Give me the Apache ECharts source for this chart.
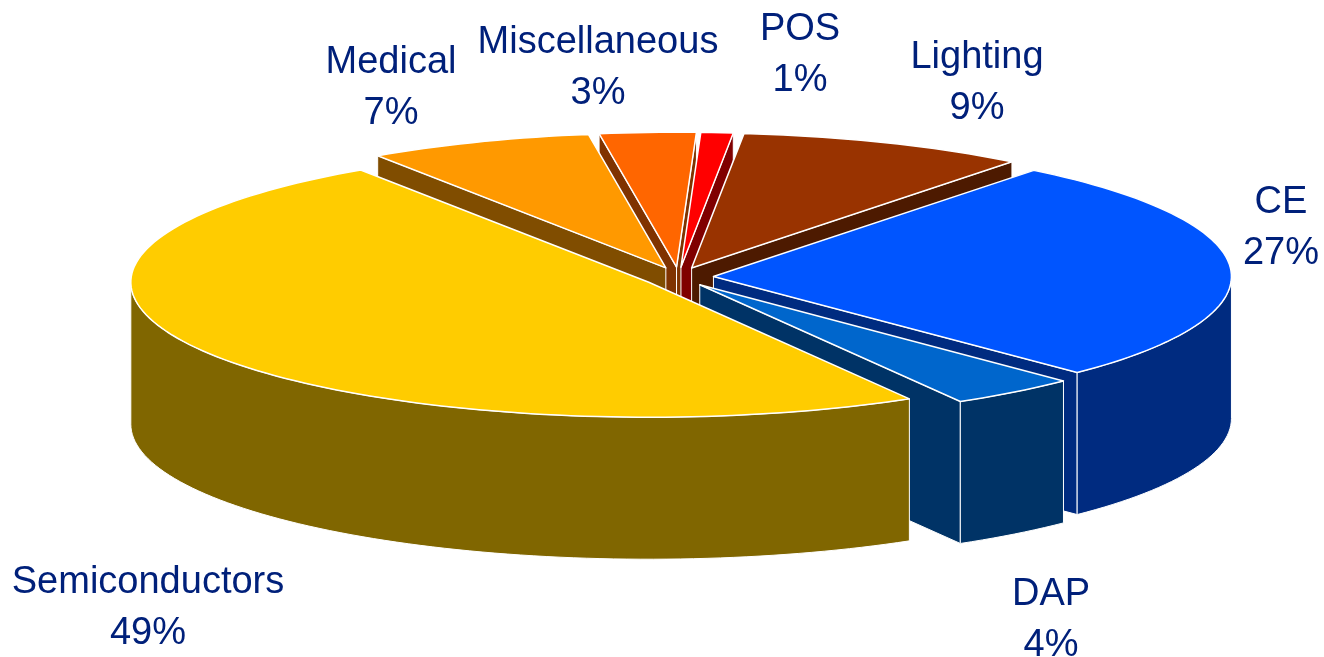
<!DOCTYPE html>
<html>
<head>
<meta charset="utf-8">
<style>html,body{margin:0;padding:0;background:#fff}#chart{width:1324px;height:657px}</style>
<script src="https://cdn.jsdelivr.net/npm/echarts@6/dist/echarts.min.js"></script>
</head>
<body>
<div id="chart"></div>
<script>
// Market share by application segment, clockwise from the lower right
const categories = ['Semiconductors', 'Medical', 'Miscellaneous', 'POS', 'Lighting', 'CE', 'DAP'];
const shares = [49, 7, 3, 1, 9, 27, 4];
const topColors = ['#FFCC00', '#FF9900', '#FF6600', '#FF0000', '#993300', '#0055FF', '#0066CC'];
const sideColors = ['#806600', '#804D00', '#803300', '#800000', '#4D1A00', '#002B80', '#003366'];
const labelCentres = [[148, 608], [391, 88], [598, 68], [800, 55], [977, 83], [1281, 228], [1051, 620]];

// Projection of the tilted pie onto the page
const CX = 678.5, CY = 277;        // pie centre before slices are pulled out
const RX = 518, RY = 135;          // radii of the projected top face
const DEPTH = 142;                 // height of the extruded walls
const EXPLODE = 35, EXPLODE_TILT = 0.28;
const START_DEG = 59.8;            // where the first slice begins, clockwise from +x

const total = shares.reduce((a, b) => a + b, 0);
const rad = d => d * Math.PI / 180;

function sliceSpan(i) {
  let from = START_DEG;
  for (let k = 0; k < i; k++) from += shares[k] / total * 360;
  return [from, from + shares[i] / total * 360];
}

// Painting order: the slice spanning the front of the pie goes last, the rest by how low they sit
function depthRank(a, b) {
  for (let q = 90; q < b + 360; q += 360) if (q >= a && q <= b) return 2;
  return Math.sin(rad((a + b) / 2));
}

function arcPoints(ox, oy, a, b, dy) {
  const n = Math.max(2, Math.ceil((b - a) / 1.5));
  const pts = [];
  for (let j = 0; j <= n; j++) {
    const t = rad(a + (b - a) * j / n);
    pts.push([ox + RX * Math.cos(t), oy + RY * Math.sin(t) + dy]);
  }
  return pts;
}

// Part of [a, b] that faces the viewer, where the outer wall can be seen
function frontArc(a, b) {
  for (const base of [0, 360]) {
    const lo = Math.max(a, base), hi = Math.min(b, base + 180);
    if (lo < hi) return [lo, hi];
  }
  return null;
}

function renderSlice(params, api) {
  const i = params.dataIndex;
  const share = api.value(0);
  const [a, b] = sliceSpan(i);
  const mid = rad((a + b) / 2);
  const ox = CX + EXPLODE * Math.cos(mid);
  const oy = CY + EXPLODE * EXPLODE_TILT * Math.sin(mid);
  const base = Math.round((depthRank(a, b) + 1) * 1000);
  const side = sideColors[i], top = topColors[i];
  const children = [];

  const wallStyle = { fill: side, stroke: '#fff', lineWidth: 1, lineJoin: 'round' };

  // A radial cut is only seen when its outward normal points down the page
  const cuts = [];
  if (Math.cos(rad(a)) < 0) cuts.push(a);
  if (Math.cos(rad(b)) > 0) cuts.push(b);
  cuts.forEach(deg => {
    const t = rad(deg);
    const x = ox + RX * Math.cos(t), y = oy + RY * Math.sin(t);
    children.push({
      type: 'polygon', z2: base,
      shape: { points: [[ox, oy], [x, y], [x, y + DEPTH], [ox, oy + DEPTH]] },
      style: wallStyle
    });
  });

  const arc = frontArc(a, b);
  if (arc) {
    const upper = arcPoints(ox, oy, arc[0], arc[1], 0);
    const lower = arcPoints(ox, oy, arc[0], arc[1], DEPTH).reverse();
    children.push({
      type: 'polygon', z2: base + 1,
      shape: { points: upper.concat(lower) },
      style: wallStyle
    });
  }

  children.push({
    type: 'polygon', z2: base + 2,
    shape: { points: [[ox, oy]].concat(arcPoints(ox, oy, a, b, 0)) },
    style: { fill: top, stroke: '#fff', lineWidth: 1.5, lineJoin: 'round' }
  });

  children.push({
    type: 'text', z2: 5000,
    style: {
      text: categories[i] + '\n' + share + '%',
      x: labelCentres[i][0], y: labelCentres[i][1],
      align: 'center', verticalAlign: 'middle',
      fontFamily: 'Liberation Sans, Arial, sans-serif', fontSize: 38, lineHeight: 51,
      fill: '#00207A'
    }
  });

  return { type: 'group', children };
}

const chart = echarts.init(document.getElementById('chart'), null, { renderer: 'canvas' });
chart.setOption({
  animation: false,
  backgroundColor: '#ffffff',
  series: [{
    type: 'custom',
    coordinateSystem: 'none',
    renderItem: renderSlice,
    data: shares.map((v, i) => ({ name: categories[i], value: [v] }))
  }]
});
</script>
</body>
</html>
